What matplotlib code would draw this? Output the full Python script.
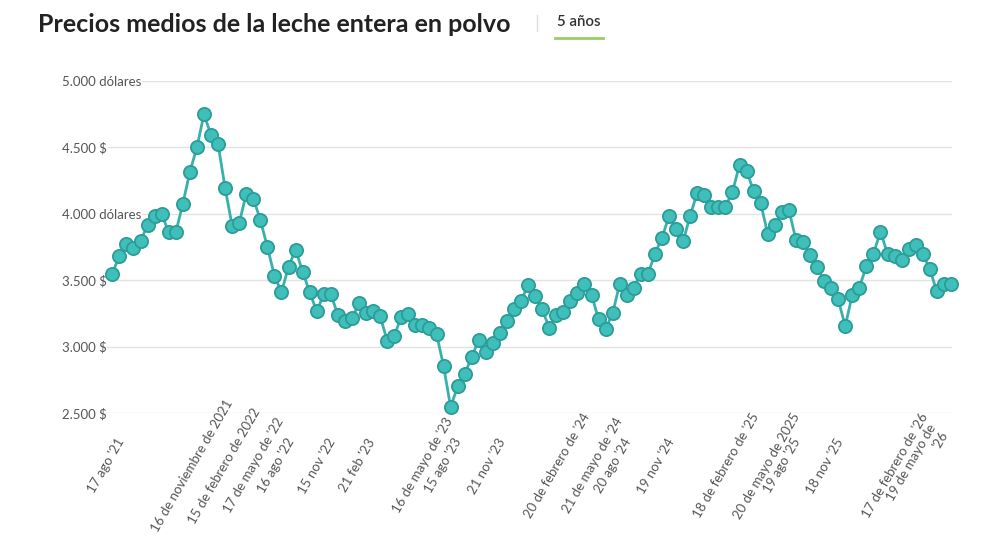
import numpy as np
import matplotlib.pyplot as plt
from matplotlib.lines import Line2D

# precio medio por subasta (USD/t)
prices = [3550, 3685, 3770, 3740, 3795, 3915, 3980, 4000, 3860, 3860,
          4075, 4315, 4500, 4750, 4595, 4525, 4195, 3910, 3930, 4150,
          4115, 3955, 3750, 3535, 3410, 3600, 3730, 3565, 3410, 3265,
          3395, 3395, 3240, 3195, 3215, 3325, 3255, 3270, 3230, 3045,
          3080, 3225, 3245, 3165, 3165, 3140, 3095, 2855, 2545, 2700,
          2790, 2925, 3050, 2960, 3025, 3100, 3195, 3280, 3345, 3465,
          3380, 3280, 3140, 3240, 3260, 3340, 3400, 3470, 3390, 3205,
          3135, 3250, 3475, 3390, 3445, 3550, 3545, 3700, 3820, 3985,
          3885, 3795, 3985, 4160, 4145, 4055, 4050, 4055, 4165, 4370,
          4325, 4170, 4080, 3850, 3915, 4010, 4030, 3805, 3785, 3690,
          3600, 3495, 3445, 3355, 3155, 3390, 3445, 3605, 3700, 3865,
          3700, 3680, 3655, 3735, 3765, 3695, 3585, 3415, 3475, 3475]

# etiquetas del eje x y su posicion (en numero de subasta)
x_label_pos = [-0.9, 11.3, 15.9, 20.1, 23.2, 29.1, 34.8, 44.0, 46.9, 53.1,
               63.1, 68.1, 71.1, 77.1, 87.1, 92.9, 95.0, 101.1, 111.1, 114.2]
x_labels = ["17 ago '21", "16 de noviembre de 2021", "15 de febrero de 2022",
            "17 de mayo de '22", "16 ago '22", "15 nov '22", "21 feb '23",
            "16 de mayo de '23", "15 ago '23", "21 nov '23",
            "20 de febrero de '24", "21 de mayo de '24", "20 ago '24",
            "19 nov '24", "18 de febrero de '25", "20 de mayo de 2025",
            "19 ago '25", "18 nov '25", "17 de febrero de '26",
            "19 de mayo de\n'26"]

y_ticks = [2500, 3000, 3500, 4000, 4500, 5000]
y_labels = ["2.500 $", "3.000 $", "3.500 $", "4.000 dólares", "4.500 $", "5.000 dólares"]

plt.rcParams['font.family'] = ['Lato', 'DejaVu Sans']

fig = plt.figure(figsize=(10, 5.5), dpi=100)
ax = fig.add_axes([0.106, 0.2491, 0.846, 0.6036])

x = np.arange(len(prices))
ax.plot(x, prices, '-o', color='#38b0ac', lw=2, markersize=9.5,
        markerfacecolor='#40bfba', markeredgecolor='#2b9d99', markeredgewidth=1.3,
        clip_on=False, zorder=3)

ax.set_xlim(-0.3, 119.15)
ax.set_ylim(2500, 5000)

ax.set_yticks(y_ticks)
ax.set_yticklabels(y_labels)
ax.set_xticks(x_label_pos)
ax.set_xticklabels(x_labels)

ax.set_axisbelow(True)
ax.grid(axis='y', color='#e3e3e3', lw=1)
ax.grid(axis='x', visible=False)
for s in ax.spines.values():
    s.set_visible(False)

ax.tick_params(axis='y', length=0, pad=31.7, labelsize=9.5, labelcolor='#555555')
ax.tick_params(axis='x', length=0, pad=38, labelsize=9.5, labelcolor='#555555')
for lab in ax.get_yticklabels():
    lab.set_horizontalalignment('left')
    lab.set_bbox(dict(facecolor='white', edgecolor='none', pad=0.5))
for lab in ax.get_xticklabels():
    lab.set_rotation(60)
    lab.set_horizontalalignment('center')
    lab.set_verticalalignment('center')
    lab.set_rotation_mode('anchor')
    lab.set_multialignment('right')

# cabecera
fig.text(0.038, 1 - 25 / 550, 'Precios medios de la leche entera en polvo',
         fontsize=18, fontweight='bold', color='#222222', va='center', ha='left')
fig.add_artist(Line2D([0.537, 0.537], [1 - 15 / 550, 1 - 31 / 550], color='#dddddd', lw=1))
fig.text(0.557, 1 - 22 / 550, '5 años', fontsize=10.8, fontweight='semibold',
         color='#333333', va='center', ha='left')
fig.add_artist(Line2D([0.555, 0.603], [1 - 38 / 550, 1 - 38 / 550], color='#9ccc65', lw=2))

fig.savefig('out.png', dpi=100)
